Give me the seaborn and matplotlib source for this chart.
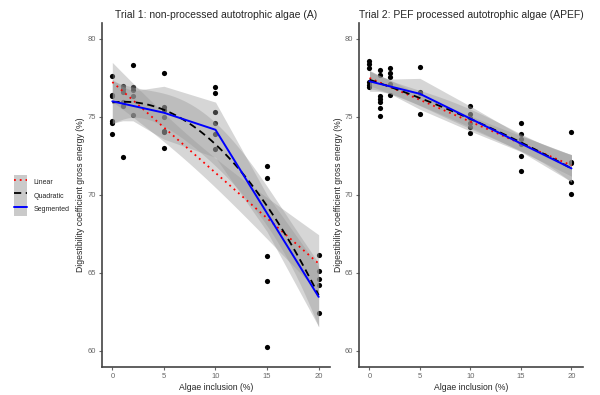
import numpy as np
import pandas as pd
import matplotlib
matplotlib.use("Agg")
import matplotlib.pyplot as plt
import seaborn as sns
from matplotlib.lines import Line2D
from matplotlib.patches import Patch
from matplotlib.legend_handler import HandlerTuple

sns.set_theme(style="white")
plt.rcParams["font.family"] = ["Liberation Sans", "DejaVu Sans"]

# inclusion levels (%)
levels = [0, 1, 2, 5, 10, 15, 20]

# Trial 1: non-processed algae (A), digestibility values per level
trial1_values = [
    [77.6, 76.4, 76.3, 74.7, 74.6, 73.9],
    [76.95, 76.75, 76.6, 75.9, 75.65, 72.4],
    [78.3, 76.9, 76.7, 76.3, 75.1],
    [77.8, 75.6, 75.4, 75.0, 74.1, 74.0, 73.0],
    [76.9, 76.5, 75.3, 74.6, 73.9, 72.9],
    [71.8, 71.05, 66.05, 64.45, 60.25],
    [66.1, 65.1, 64.6, 64.2, 62.4],
]

# Trial 2: PEF processed algae (APEF)
trial2_values = [
    [78.59, 78.38, 78.12, 77.22, 77.05, 76.9],
    [77.97, 77.65, 76.3, 76.1, 75.95, 75.55, 75.06],
    [78.12, 77.8, 77.52, 77.1, 76.41],
    [78.2, 76.6, 76.5, 75.15],
    [75.66, 75.19, 74.89, 74.6, 74.31, 73.97],
    [74.57, 73.85, 73.53, 73.21, 72.46, 71.5],
    [73.99, 72.07, 71.99, 70.79, 70.04],
]

titles = ["Trial 1: non-processed autotrophic algae (A)",
          "Trial 2: PEF processed autotrophic algae (APEF)"]


def to_frame(values):
    rows = []
    for lv, vals in zip(levels, values):
        for v in vals:
            rows.append({"x": lv, "y": v})
    return pd.DataFrame(rows)


def t_crit(df):
    z = 1.959964
    return z + (z ** 3 + z) / (4 * df)


def poly_fit(x, y, deg, grid):
    X = np.vander(x, deg + 1)
    b = np.linalg.lstsq(X, y, rcond=None)[0]
    resid = y - X @ b
    df = len(x) - (deg + 1)
    cov = resid @ resid / df * np.linalg.inv(X.T @ X)
    G = np.vander(grid, deg + 1)
    pred = G @ b
    se = np.sqrt(np.einsum("ij,jk,ik->i", G, cov, G))
    return pred, pred - t_crit(df) * se, pred + t_crit(df) * se


def seg_fit(x, y, grid):
    # one-breakpoint segmented regression, grid search on the breakpoint
    best = None
    for psi in np.linspace(0.5, 19.5, 1901):
        X = np.column_stack([np.ones_like(x), x, np.clip(x - psi, 0, None)])
        b = np.linalg.lstsq(X, y, rcond=None)[0]
        sse = np.sum((y - X @ b) ** 2)
        if best is None or sse < best[0]:
            best = (sse, psi, b)
    sse, psi, b = best
    df = len(x) - 4

    def jac(v):
        return np.column_stack([np.ones_like(v), v, np.clip(v - psi, 0, None),
                                -b[2] * (v > psi)])

    J = jac(x)
    cov = sse / df * np.linalg.inv(J.T @ J)
    G = jac(grid)
    pred = G[:, :3] @ b
    se = np.sqrt(np.einsum("ij,jk,ik->i", G, cov, G))
    return pred, pred - t_crit(df) * se, pred + t_crit(df) * se


fig = plt.figure(figsize=(6, 3.95), dpi=100)
ax_pos = [[0.170, 0.071, 0.380, 0.871], [0.599, 0.071, 0.372, 0.871]]

styles = {
    "Linear": dict(color="red", linestyle=(0, (1, 2.2)), lw=1.3),
    "Quadratic": dict(color="black", linestyle=(0, (4, 2.5)), lw=1.3),
    "Segmented": dict(color="blue", linestyle="-", lw=1.4),
}
ribbon = "#999999"

for pos, values, title in zip(ax_pos, [trial1_values, trial2_values], titles):
    ax = fig.add_axes(pos)
    d = to_frame(values)
    x = d["x"].to_numpy(float)
    y = d["y"].to_numpy(float)

    sns.scatterplot(data=d, x="x", y="y", color="black", s=14,
                    linewidth=0, ax=ax, zorder=1)

    grid = np.linspace(0, 20, 80)
    lvl = np.array(levels, float)
    fits = {
        "Linear": (grid, *poly_fit(x, y, 1, grid)),
        "Quadratic": (grid, *poly_fit(x, y, 2, grid)),
        "Segmented": (lvl, *seg_fit(x, y, lvl)),
    }
    for name, (gx, pred, lo, hi) in fits.items():
        ax.fill_between(gx, lo, hi, color=ribbon, alpha=0.4, lw=0, zorder=2)
    for name, (gx, pred, lo, hi) in fits.items():
        fd = pd.DataFrame({"x": gx, "y": pred})
        sns.lineplot(data=fd, x="x", y="y", estimator=None, sort=True,
                     ax=ax, zorder=3, **styles[name])

    ax.set_xlim(-1, 21.1)
    ax.set_ylim(58.95, 81.0)
    ax.set_xticks([0, 5, 10, 15, 20])
    ax.set_yticks([60, 65, 70, 75, 80])
    ax.set_title(title, fontsize=7.5, pad=3.5)
    ax.set_xlabel("Algae inclusion (%)", fontsize=6.2, labelpad=2)
    ax.set_ylabel("Digestibility coefficient gross energy (%)", fontsize=6.2,
                  labelpad=1.5)
    sns.despine(ax=ax)
    for sp in ["left", "bottom"]:
        ax.spines[sp].set_color("#444444")
        ax.spines[sp].set_linewidth(1.2)
    ax.tick_params(axis="both", labelsize=5.5, colors="#666666", length=2.5,
                   width=0.8, pad=2, bottom=True, left=True)
    ax.grid(False)

handles = [(Patch(facecolor="#CACACA", edgecolor="none"),
            Line2D([], [], **styles[k])) for k in styles]
fig.legend(handles, list(styles), loc="center left",
           bbox_to_anchor=(0.018, 0.505), frameon=False, fontsize=5,
           handler_map={tuple: HandlerTuple(ndivide=1, pad=0)},
           handlelength=2.0, handleheight=2.6, labelspacing=0.0,
           handletextpad=0.9, borderaxespad=0)

fig.savefig("out.png", dpi=100)
